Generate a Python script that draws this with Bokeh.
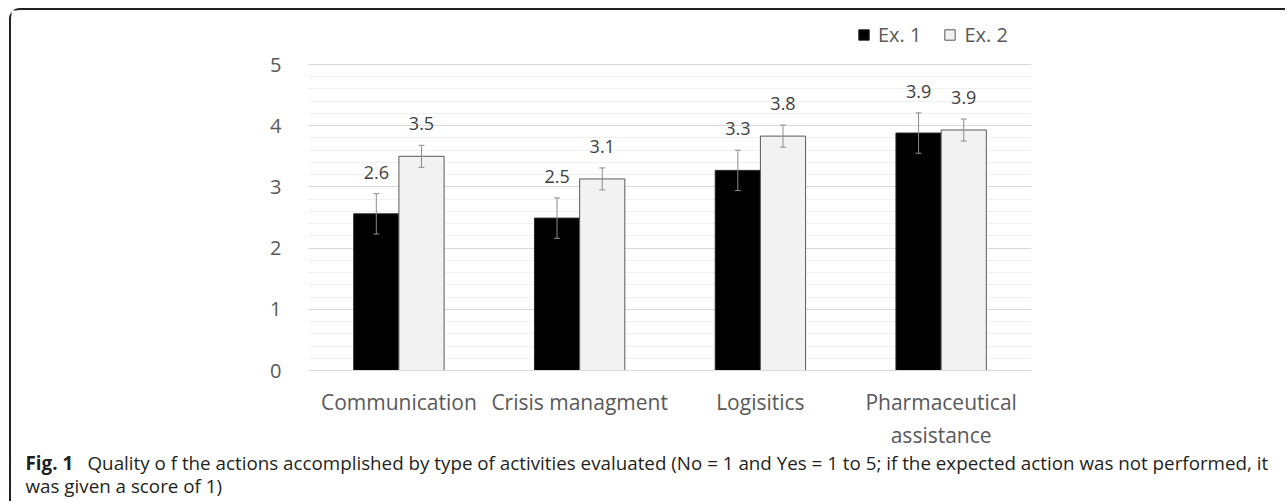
from bokeh.plotting import figure
from bokeh.models import (ColumnDataSource, Whisker, TeeHead, Legend, LegendItem, Label,
                          SingleIntervalTicker, FixedTicker, Range1d)
from bokeh.core.properties import value
from bokeh.embed import file_html
from bokeh.resources import INLINE

categories = ["Communication", "Crisis managment", "Logisitics", "Pharmaceutical\nassistance"]
ex1 = [2.56, 2.49, 3.27, 3.88]
ex2 = [3.50, 3.13, 3.83, 3.93]
err1 = [0.33, 0.33, 0.33, 0.33]
err2 = [0.18, 0.18, 0.18, 0.18]
series_names = ["Ex. 1", "Ex. 2"]
y_ticks = [0, 1, 2, 3, 4, 5]
caption_bold = "Fig. 1"
caption_line1 = ("Quality o f the actions accomplished by type of activities evaluated "
                 "(No = 1 and Yes = 1 to 5; if the expected action was not performed, it")
caption_line2 = "was given a score of 1)"

FONT = "Open Sans"
GREY_TXT = "#595959"
CAP_COL = "#231f20"
pad = 0.35          # data-label gap above the error bar (in y units)
half = 0.125        # half the dodge between the two bars of a group
bar_w = 0.25

idx = list(range(len(categories)))
src = ColumnDataSource(dict(
    x1=[i - half for i in idx], x2=[i + half for i in idx],
    v1=ex1, v2=ex2,
    u1=[v + e for v, e in zip(ex1, err1)], l1=[v - e for v, e in zip(ex1, err1)],
    u2=[v + e for v, e in zip(ex2, err2)], l2=[v - e for v, e in zip(ex2, err2)],
    t1=[f"{v:.1f}" for v in ex1], t2=[f"{v:.1f}" for v in ex2],
    ly1=[v + e + pad for v, e in zip(ex1, err1)],
    ly2=[v + e + pad for v, e in zip(ex2, err2)],
))

W, H = 1276, 493
p = figure(x_range=Range1d(-2.1433, 4.9162), y_range=Range1d(-2.1732, 5.8824),
           width=W, height=H, output_backend="svg", toolbar_location=None,
           min_border=0, min_border_left=0, min_border_right=0,
           min_border_top=0, min_border_bottom=0)
p.styles = {"border-top": "2px solid #231f20", "border-left": "2px solid #231f20",
            "border-top-left-radius": "11px", "margin-left": "9px", "margin-top": "8px"}
p.outline_line_color = None
p.background_fill_color = "white"
p.border_fill_color = "white"

b1 = p.vbar(x="x1", top="v1", width=bar_w, source=src,
            fill_color="black", line_color="#262626", line_width=1)
b2 = p.vbar(x="x2", top="v2", width=bar_w, source=src,
            fill_color="#f2f2f2", line_color="#595959", line_width=1)

for xb, up, lo in [("x1", "u1", "l1"), ("x2", "u2", "l2")]:
    w = Whisker(source=src, base=xb, upper=up, lower=lo,
                line_color="#8c8c8c", line_width=1, level="overlay",
                upper_head=TeeHead(size=6, line_color="#8c8c8c", line_width=1),
                lower_head=TeeHead(size=6, line_color="#8c8c8c", line_width=1))
    p.add_layout(w)

for xb, ly, t in [("x1", "ly1", "t1"), ("x2", "ly2", "t2")]:
    p.text(x=xb, y=ly, text=t, source=src,
           text_align="center", text_baseline="middle", text_font=value(FONT),
           text_font_size="18px", text_color="#404040")

# y axis: drawn at the left end of the category band
ticker = SingleIntervalTicker(interval=1, num_minor_ticks=5)
p.yaxis.ticker = ticker
p.yaxis.bounds = (y_ticks[0], y_ticks[-1])
p.yaxis.fixed_location = -0.5
p.yaxis.axis_line_color = None
p.yaxis.major_tick_line_color = None
p.yaxis.minor_tick_line_color = None
p.yaxis.major_tick_out = 0
p.yaxis.major_label_text_font = FONT
p.yaxis.major_label_text_font_size = "20px"
p.yaxis.major_label_text_color = GREY_TXT
p.yaxis.major_label_standoff = 23

p.ygrid.ticker = ticker
p.ygrid.bounds = (y_ticks[0], y_ticks[-1])
p.ygrid.cross_bounds = (-0.5, len(categories) - 0.5)
p.ygrid.grid_line_color = "#d9d9d9"
p.ygrid.minor_grid_line_color = "#f0f0f0"
p.xgrid.grid_line_color = None

# category axis at y = 0
p.xaxis.ticker = FixedTicker(ticks=idx)
p.xaxis.major_label_overrides = {i: c for i, c in zip(idx, categories)}
p.xaxis.fixed_location = 0
p.xaxis.bounds = (-0.5, len(categories) - 0.5)
p.xaxis.axis_line_color = "#d9d9d9"
p.xaxis.major_tick_line_color = None
p.xaxis.minor_tick_line_color = None
p.xaxis.major_tick_out = 0
p.xaxis.major_label_text_font = FONT
p.xaxis.major_label_text_font_size = "21px"
p.xaxis.major_label_text_color = GREY_TXT
p.xaxis.major_label_standoff = 17

legend = Legend(items=[LegendItem(label=series_names[0], renderers=[b1]),
                       LegendItem(label=series_names[1], renderers=[b2])],
                location=(846, 455), orientation="horizontal",
                padding=0, margin=0, spacing=22, label_standoff=8,
                glyph_width=13, glyph_height=13, label_height=20,
                border_line_color=None, background_fill_alpha=0,
                label_text_font=FONT, label_text_font_size="20px",
                label_text_color=GREY_TXT)
p.add_layout(legend)

p.add_layout(Label(x=14, y=41, x_units="screen", y_units="screen", text=caption_bold,
                   text_font=FONT, text_font_size="18.8px", text_font_style="bold",
                   text_color=CAP_COL, text_baseline="middle"))
p.add_layout(Label(x=76, y=41, x_units="screen", y_units="screen", text=caption_line1,
                   text_font=FONT, text_font_size="18.8px",
                   text_color=CAP_COL, text_baseline="middle"))
p.add_layout(Label(x=14, y=18, x_units="screen", y_units="screen", text=caption_line2,
                   text_font=FONT, text_font_size="18.8px",
                   text_color=CAP_COL, text_baseline="middle"))

open("out.html", "w").write(file_html(p, INLINE))
